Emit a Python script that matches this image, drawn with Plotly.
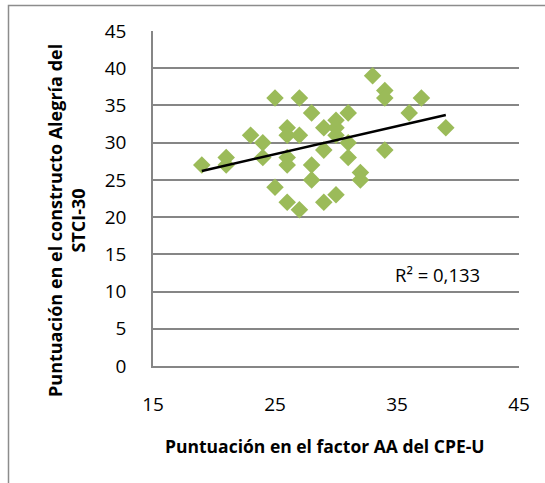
import numpy as np
import plotly.graph_objects as go

# Data
x_vals = [19, 21, 21, 23, 24, 24, 25, 25, 26, 26, 26, 26, 26, 27, 27, 27, 28, 28, 28,
          29, 29, 29, 30, 30, 30, 30, 31, 31, 31, 32, 32, 33, 34, 34, 34, 36, 37, 39]
y_vals = [27, 28, 27, 31, 30, 28, 36, 24, 32, 31, 28, 27, 22, 36, 31, 21, 34, 27, 25,
          32, 29, 22, 33, 32, 31, 23, 34, 30, 28, 26, 25, 39, 37, 36, 29, 34, 36, 32]
x_ticks = [15, 25, 35, 45]
y_ticks = [0, 5, 10, 15, 20, 25, 30, 35, 40, 45]
r2_label = "R² = 0,133"
x_title = "Puntuación en el factor AA del CPE-U"
y_title = "Puntuación en el constructo Alegría del<br>STCI-30"

xa = np.array(x_vals, dtype=float)
ya = np.array(y_vals, dtype=float)
slope, intercept = np.polyfit(xa, ya, 1)
trend_x = [xa.min(), xa.max()]
trend_y = [slope * v + intercept for v in trend_x]

FONT = "Open Sans"
GRID = "#868686"

W, H = 545, 483
ML, MR, MT, MB = 153, 26, 31, 117
pw, ph = W - ML - MR, H - MT - MB

def px_to_paper(px, py):
    return (px - ML) / pw, 1 - (py - MT) / ph

fig = go.Figure()
fig.add_trace(go.Scatter(
    x=x_vals, y=y_vals, mode="markers",
    marker=dict(symbol="diamond", size=13.5, color="#9BBB59", line=dict(width=0)),
    showlegend=False, hoverinfo="x+y",
))
fig.add_trace(go.Scatter(
    x=trend_x, y=trend_y, mode="lines",
    line=dict(color="black", width=2.5),
    showlegend=False, hoverinfo="skip",
))

bx0, by1 = px_to_paper(8.5, 5.5)
tx, ty = px_to_paper(325, 446)
yx, yy = px_to_paper(66, 221)

fig.update_layout(
    width=W, height=H,
    margin=dict(l=ML, r=MR, t=MT, b=MB, autoexpand=False),
    paper_bgcolor="white", plot_bgcolor="white",
    font=dict(family=FONT, size=19, color="black"),
    xaxis=dict(
        range=[15, 45], tickvals=x_ticks, ticks="", showgrid=False,
        zeroline=False, showline=True, linecolor=GRID, linewidth=1.5,
        ticklabelstandoff=20, tickfont=dict(family=FONT, size=19, color="black"),
    ),
    yaxis=dict(
        range=[0, 45], tickvals=y_ticks, ticks="", showgrid=True,
        gridcolor=GRID, gridwidth=1.5, zeroline=False,
        showline=True, linecolor=GRID, linewidth=1.5,
        ticklabelstandoff=21, tickfont=dict(family=FONT, size=19, color="black"),
    ),
    shapes=[dict(
        type="rect", xref="paper", yref="paper",
        x0=bx0, x1=1.4, y0=-0.6, y1=by1,
        line=dict(color="#8c8c8c", width=1.5), fillcolor="rgba(0,0,0,0)",
        layer="below",
    )],
    annotations=[
        dict(text=r2_label, x=38.36, y=12.3, xref="x", yref="y",
             xanchor="center", yanchor="middle",
             showarrow=False, font=dict(family=FONT, size=18.5, color="black")),
        dict(text="<b>" + x_title + "</b>", x=tx, y=ty, xref="paper", yref="paper",
             xanchor="center", yanchor="middle",
             showarrow=False, font=dict(family=FONT, size=17.5, color="black")),
        dict(text="<b>" + y_title + "</b>", x=yx, y=yy, xref="paper", yref="paper",
             xanchor="center", yanchor="middle",
             showarrow=False, textangle=-90, align="center",
             font=dict(family=FONT, size=18, color="black")),
    ],
)

fig.write_html("out.html", config={"displayModeBar": False},
               post_script="document.body.style.margin='0';document.body.style.padding='0';")
